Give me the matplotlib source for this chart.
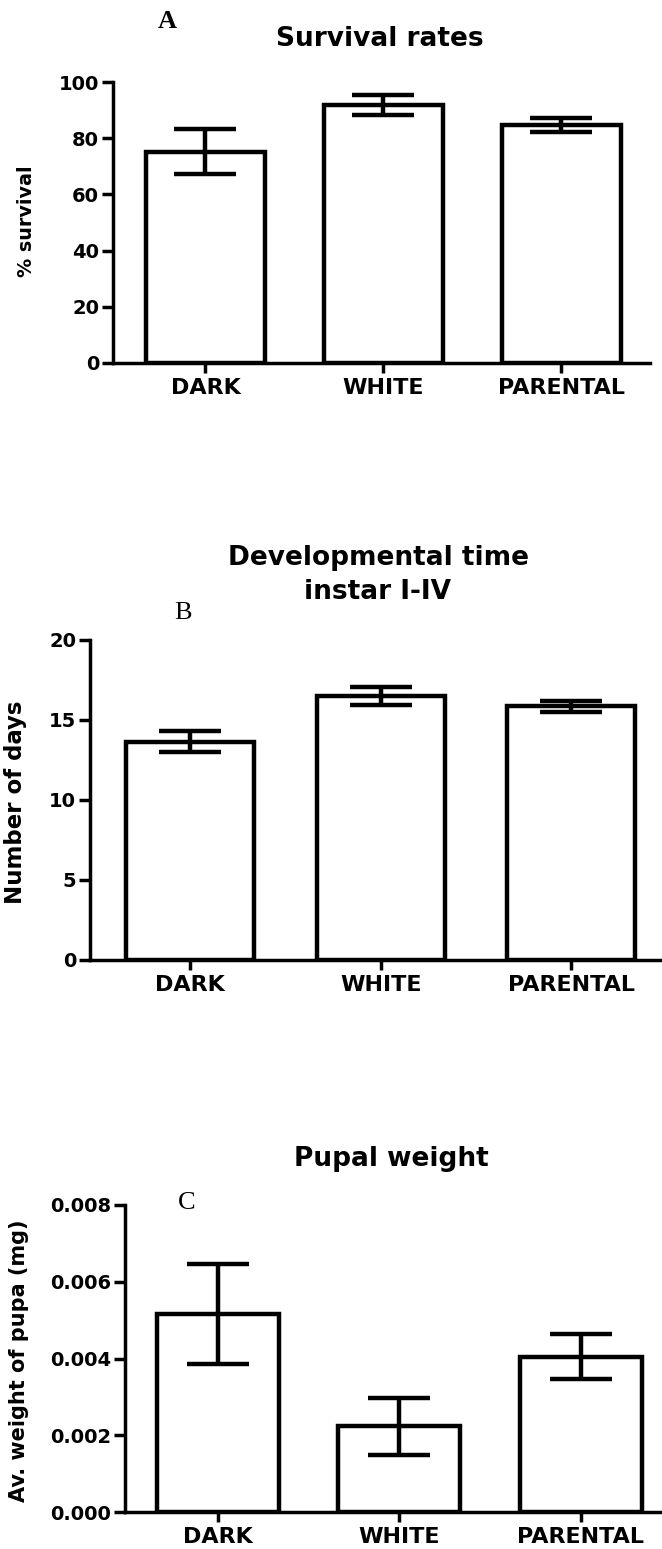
import matplotlib
matplotlib.use("Agg")
import matplotlib.pyplot as plt

# data
groups = ["DARK", "WHITE", "PARENTAL"]

survival = [75.2, 91.7, 84.6]
survival_err = [8.0, 3.5, 2.5]

dev_days = [13.65, 16.5, 15.85]
dev_days_err = [0.68, 0.54, 0.35]

pupa_weight = [0.00516, 0.00223, 0.00405]
pupa_weight_err = [0.00131, 0.00074, 0.00058]

W, H = 662, 1549
plt.rcParams["font.family"] = ["DejaVu Sans"]
plt.rcParams["font.weight"] = "bold"

fig = plt.figure(figsize=(W / 100, H / 100), dpi=100)


def px_axes(x0, y0, x1, y1):
    # pixel box (top-left origin) -> figure fraction
    return fig.add_axes([x0 / W, 1 - y1 / H, (x1 - x0) / W, (y1 - y0) / H])


def draw_panel(ax, vals, errs, ylim, yticks, yfmt, xlim):
    x = range(len(groups))
    ax.bar(x, vals, width=0.67, color="white", edgecolor="black", linewidth=3.2, zorder=2)
    ax.errorbar(x, vals, yerr=errs, fmt="none", ecolor="black", elinewidth=3.2,
                capsize=22, capthick=3.2, zorder=3)
    ax.set_xlim(*xlim)
    ax.set_ylim(*ylim)
    ax.set_yticks(yticks)
    ax.set_yticklabels([yfmt.format(v) for v in yticks])
    ax.set_xticks(list(x))
    ax.set_xticklabels(groups)
    for s in ("top", "right"):
        ax.spines[s].set_visible(False)
    for s in ("left", "bottom"):
        ax.spines[s].set_linewidth(2.5)
    ax.tick_params(axis="y", direction="out", length=8, width=2.5, labelsize=14, pad=2)
    ax.tick_params(axis="x", direction="out", length=7, width=2.5, labelsize=16, pad=4)
    for lab in ax.get_xticklabels() + ax.get_yticklabels():
        lab.set_fontweight("bold")
    ax.patch.set_alpha(0)


def ylab(x, y, s, size):
    fig.text(x / W, 1 - y / H, s, rotation=90, ha="center", va="center",
             fontsize=size, fontweight="bold")


def title(x, y, s, **kw):
    fig.text(x / W, 1 - y / H, s, ha="center", va="center", fontsize=19,
             fontweight="bold", **kw)


def letter(x, y, s, weight):
    fig.text(x / W, 1 - y / H, s, ha="center", va="center", fontsize=19,
             fontweight=weight, family="Liberation Serif")


# Panel A
axA = px_axes(113, 82, 650, 363)
draw_panel(axA, survival, survival_err, (0, 100), [0, 20, 40, 60, 80, 100], "{:g}",
           (-0.52, 2.5))
ylab(27, 221, "% survival", 13.8)
title(380, 39, "Survival rates")
letter(167, 21, "A", "bold")

# Panel B
axB = px_axes(90, 640, 680, 960)
draw_panel(axB, dev_days, dev_days_err, (0, 20), [0, 5, 10, 15, 20], "{:g}",
           (-0.525, 2.57))
ylab(16, 802, "Number of days", 16.5)
title(378, 575, "Developmental time\ninstar I-IV", linespacing=1.4)
letter(183, 613, "B", "normal")

# Panel C
axC = px_axes(125, 1205, 690, 1512)
draw_panel(axC, pupa_weight, pupa_weight_err, (0, 0.008),
           [0, 0.002, 0.004, 0.006, 0.008], "{:.3f}", (-0.51, 2.6))
ylab(19, 1361, "Av. weight of pupa (mg)", 15)
title(391, 1159, "Pupal weight")
letter(187, 1203, "C", "normal")

fig.savefig("out.png", dpi=100)
